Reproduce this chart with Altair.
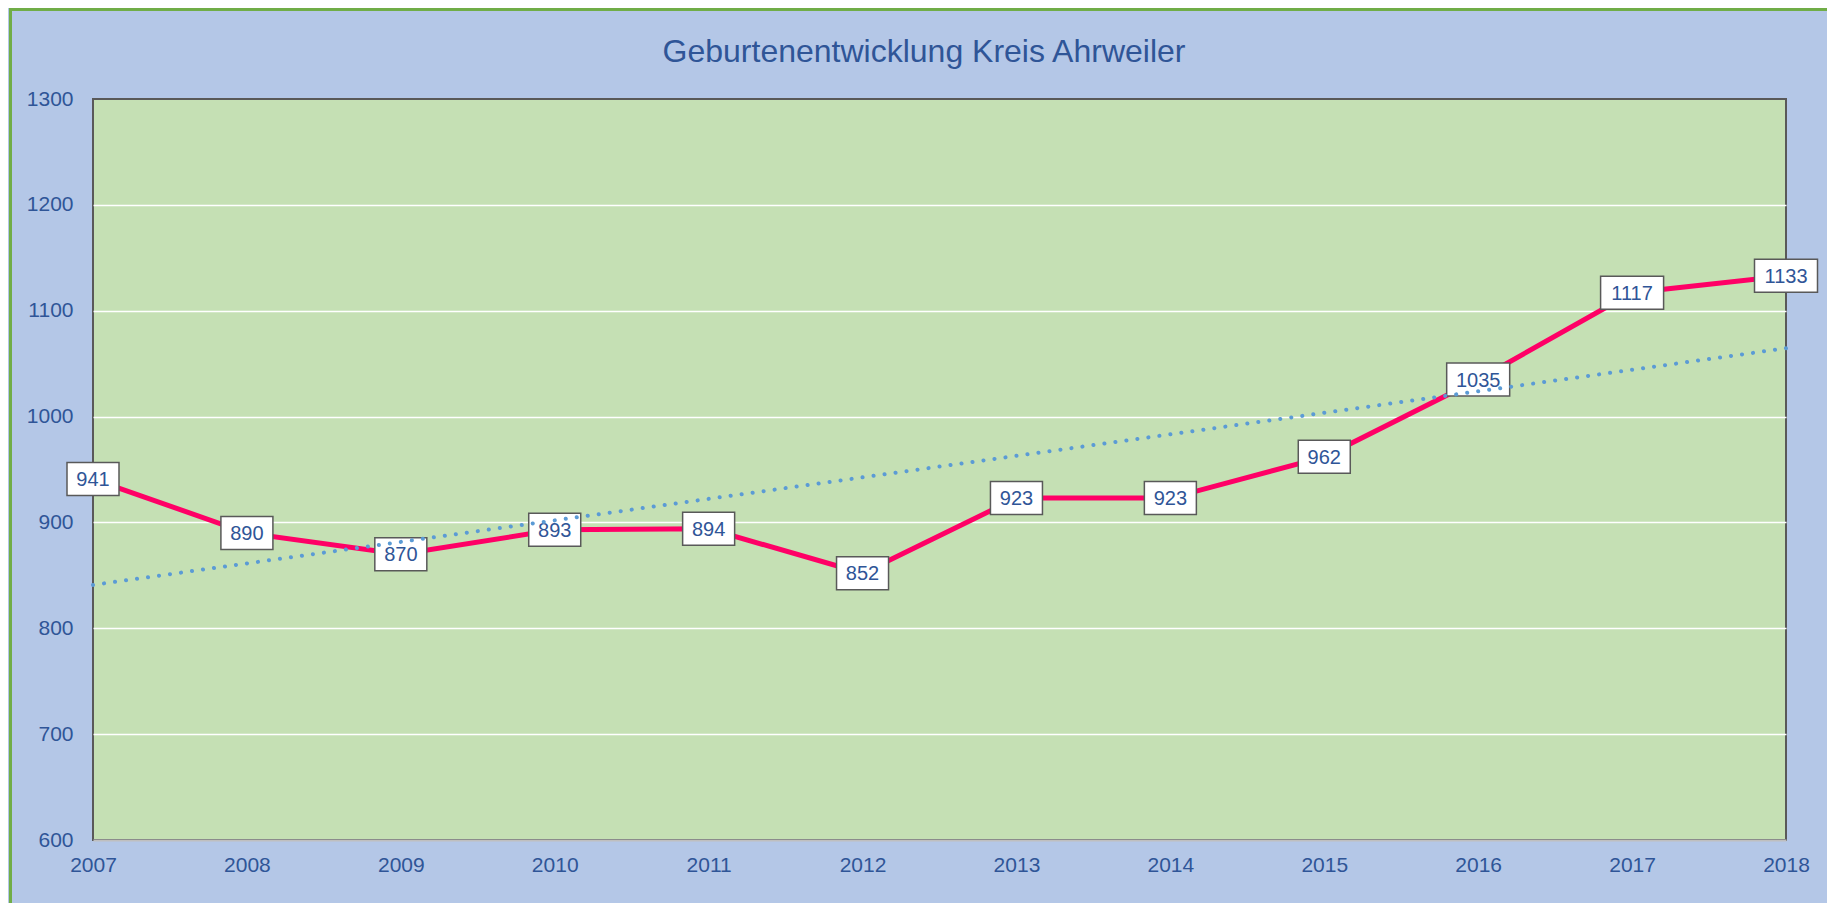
import altair as alt
import pandas as pd

years = [2007, 2008, 2009, 2010, 2011, 2012, 2013, 2014, 2015, 2016, 2017, 2018]
births = [941, 890, 870, 893, 894, 852, 923, 923, 962, 1035, 1117, 1133]
y_ticks = [600, 700, 800, 900, 1000, 1100, 1200, 1300]
title_text = "Geburtenentwicklung Kreis Ahrweiler"

df = pd.DataFrame({"Jahr": years, "Geburten": births})

FONT = "Liberation Sans"
TEXT_COL = "#2F5597"
PW, PH = 1693, 741
W, H = 1819, 895
PAD_L, PAD_T = 85, 91

x = alt.X(
    "Jahr:Q",
    scale=alt.Scale(domain=[2007, 2018], nice=False, zero=False),
    axis=alt.Axis(
        values=years, format="d", title=None, grid=False, ticks=False,
        domain=True, domainColor="#BFBFBF", domainWidth=2,
        labelFontSize=21, labelColor=TEXT_COL, labelFont=FONT,
        labelPadding=14, labelFlush=False, labelOverlap=False,
    ),
)
y = alt.Y(
    "Geburten:Q",
    scale=alt.Scale(domain=[600, 1300], nice=False, zero=False),
    axis=alt.Axis(
        values=y_ticks, format="d", title=None, ticks=False, domain=False,
        grid=True, gridColor="white", gridWidth=1.5,
        gridOpacity={"condition": {"test": "datum.value == 600 || datum.value == 1300", "value": 0}, "value": 1},
        labelFontSize=21, labelColor=TEXT_COL, labelFont=FONT, labelPadding=20,
    ),
)

base = alt.Chart(df)

line = base.mark_line(color="#FF0066", strokeWidth=5).encode(x=x, y=y)

box3 = base.transform_filter("datum.Geburten < 1000").mark_rect(
    width=52, height=33, fill="white", stroke="#595959", strokeWidth=1.5
).encode(x="Jahr:Q", y="Geburten:Q")
box4 = base.transform_filter("datum.Geburten >= 1000").mark_rect(
    width=63, height=33, fill="white", stroke="#595959", strokeWidth=1.5
).encode(x="Jahr:Q", y="Geburten:Q")

labels = base.mark_text(
    font=FONT, fontSize=20, color=TEXT_COL, align="center", baseline="middle", dy=1
).encode(x="Jahr:Q", y="Geburten:Q", text=alt.Text("Geburten:Q", format="d"))

trend = base.transform_regression("Jahr", "Geburten").mark_line(
    color="#5B9BD5", strokeWidth=4, strokeDash=[0.1, 11], strokeCap="round"
).encode(x="Jahr:Q", y="Geburten:Q")

one = alt.Data(values=[{"t": title_text}])

title = alt.Chart(one).mark_text(
    font=FONT, fontSize=32, color=TEXT_COL, align="center", baseline="alphabetic"
).encode(text="t:N", x=alt.value(831), y=alt.value(-37))

border = alt.Chart(one).mark_rect(
    filled=False, stroke="#70AD47", strokeWidth=3
).encode(
    x=alt.value(-PAD_L + 2.5), y=alt.value(-PAD_T + 1.5),
    x2=alt.value(W), y2=alt.value(H),
)

chart = alt.layer(line, box3, box4, labels, trend, title, border).properties(
    width=PW, height=PH,
    autosize=alt.AutoSizeParams(type="none"),
    padding={"left": PAD_L, "top": PAD_T, "right": W - PAD_L - PW, "bottom": H - PAD_T - PH},
    background="#B4C7E7",
).configure_view(
    fill="#C5E0B4", stroke="#595959", strokeWidth=2
)

chart.save("out.html", embed_options={"renderer": "svg", "actions": False})
